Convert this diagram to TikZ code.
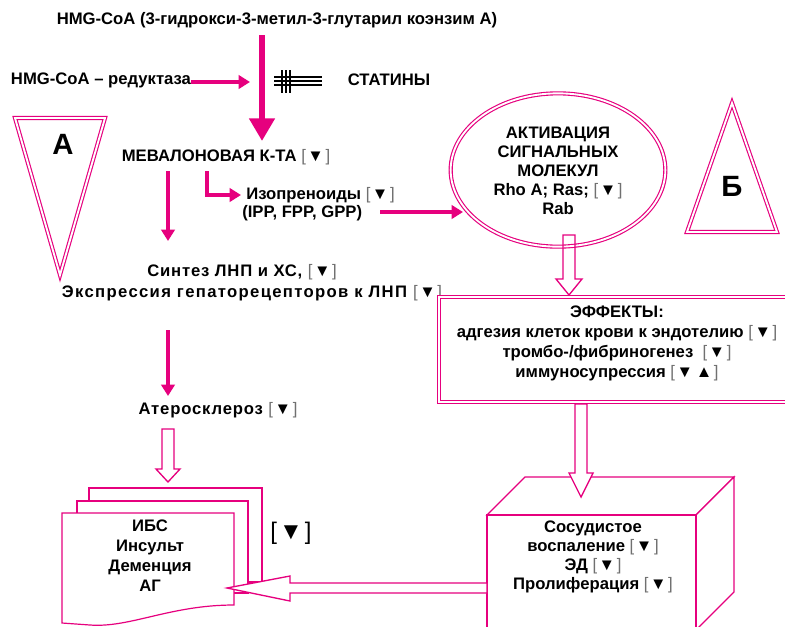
\documentclass[tikz,border=0pt]{standalone}
\usepackage{fontspec}
\setmainfont{Liberation Sans}
\usetikzlibrary{arrows.meta,shapes.geometric}
\definecolor{pk}{HTML}{E6007E}
\definecolor{brk}{HTML}{707070}
\newcommand{\dn}{{\mdseries\color{brk}[}\kern1.2pt▼\kern1.2pt{\mdseries\color{brk}]}}
\newcommand{\dnup}{{\mdseries\color{brk}[}\kern1.2pt▼\kern2pt▲\kern1.2pt{\mdseries\color{brk}]}}
\newcommand{\hdown}[6]{%
  \draw[hollow] ({#1-#5},#2) -- ({#1+#5},#2) -- ({#1+#5},#3) -- ({#1+#6},#3) -- (#1,#4) -- ({#1-#6},#3) -- ({#1-#5},#3) -- cycle;}
\tikzset{
  txt/.style={font=\bfseries\fontsize{12.5}{14}\selectfont, align=center, inner sep=0pt},
  bigl/.style={font=\bfseries\fontsize{22}{24}\selectfont, inner sep=0pt},
  thinarr/.style={draw=pk, line width=2.6pt, -{Triangle[width=10pt,length=8.5pt]}},
  bigarr/.style={draw=pk, line width=4.5pt, -{Triangle[width=18.5pt,length=17pt]}},
  dbl/.style={draw=pk, double=white, double distance=1.4pt, line width=0.85pt, line join=miter},
  hollow/.style={draw=pk, fill=white, line width=1pt, line join=miter},
  thinpk/.style={draw=pk, fill=white, line width=0.9pt, line join=miter},
  statl/.style={draw=black, line width=1.2pt}
}
\begin{document}
\begin{tikzpicture}[x=0.75pt,y=-0.75pt]
\clip (0,0) rectangle (785,626);
\fill[white] (0,0) rectangle (785,626);

% texts top
\node[txt] (hmg) at (277,20) {HMG-CoA (3-гидрокси-3-метил-3-глутарил коэнзим А)};
\node[txt] (red) at (101,80) {HMG-CoA – редуктаза};
\node[txt] (stat) at (389,80) {СТАТИНЫ};
\node[txt] (mev) at (226,157) {МЕВАЛОНОВАЯ К-ТА \dn};
\node[txt, align=left, anchor=west, font=\bfseries\fontsize{12.5}{13.5}\selectfont] (izo) at (242,204) {\hspace*{3pt}Изопреноиды \dn\\(IPP, FPP, GPP)};
\node[txt] (syn) at (242,272) {\addfontfeature{LetterSpace=5}Синтез ЛНП и ХС, \dn};
\node[txt] (exp) at (252,293) {\addfontfeature{LetterSpace=8}Экспрессия гепаторецепторов к ЛНП \dn};
\node[txt] (ath) at (218,410) {\addfontfeature{LetterSpace=5}Атеросклероз \dn};

% main big arrow
\coordinate (bigtop) at (262,35);
\coordinate (bigend) at (262,141);
\draw[bigarr] (bigtop) -- (bigend);
\coordinate (redend) at (250,82);
\draw[thinarr] (red.east |- redend) -- (redend);

% statins symbol
\foreach \xx in {282,286,290} \draw[statl] (\xx,70) -- (\xx,93);
\foreach \yy in {77,81,85} \draw[statl] (274,\yy) -- (322,\yy);

% thin arrows
\coordinate (m1) at (168,171);
\coordinate (m1e) at (168,241);
\draw[thinarr] (m1) -- (m1e);
\coordinate (m2) at (207,171);
\coordinate (m2e) at (241,195);
\draw[thinarr] (m2) |- (m2e);
\coordinate (e1) at (168,330);
\coordinate (e1e) at (168,396);
\draw[thinarr] (e1) -- (e1e);
\coordinate (i1) at (380,212);
\coordinate (i1e) at (463,212);
\draw[thinarr] (i1) -- (i1e);

% triangles
\draw[dbl] (15,118) -- (105,118) -- (60,275) -- cycle;
\node[bigl] (la) at (63,144) {А};
\draw[dbl] (687,232) -- (777,232) -- (732,103) -- cycle;
\node[bigl] (lb) at (732,186) {Б};

% ellipse
\node[dbl, ellipse, minimum width=161pt, minimum height=115pt, inner sep=0pt] (ell) at (558,170) {};
\node[txt, font=\bfseries\fontsize{12.5}{14.3}\selectfont] (elltxt) at (558,171) {АКТИВАЦИЯ\\СИГНАЛЬНЫХ\\МОЛЕКУЛ\\Rho A; Ras; \dn\\Rab};

% effects box
\draw[dbl] (439,297) rectangle (800,402);
\node[txt, font=\bfseries\fontsize{12.5}{15}\selectfont] (eff) at (617,343) {ЭФФЕКТЫ:\\адгезия клеток крови к эндотелию \dn\\тромбо-/фибриногенез\ \ \dn\\иммуносупрессия \dnup};

% hollow arrow ellipse -> effects
\draw[hollow, fill=none] (563,235) -- (575,235) -- (575,279) -- (582,279) -- (569,295) -- (556,279) -- (563,279) -- cycle;

% cube
\draw[thinpk] (487,515) -- (525,477) -- (734,477) -- (696,515) -- cycle;
\draw[thinpk] (696,515) -- (734,477) -- (734,592) -- (696,630) -- cycle;
\draw[thinpk] (487,515) rectangle (696,630);
\node[txt, font=\bfseries\fontsize{12.5}{14.3}\selectfont] (cube) at (593,557) {Сосудистое\\воспаление \dn\\ЭД \dn\\Пролиферация \dn};
\hdown{581}{404}{473}{497}{6}{12}

% pages
\draw[thinpk] (89,488) rectangle (262,582);
\draw[thinpk] (77,501) rectangle (248,593);
\draw[thinpk] (62,623) -- (62,513) -- (234,513) -- (234,605) .. controls (170,605) and (130,628) .. (90,625) -- cycle;
\node[txt, font=\bfseries\fontsize{12.5}{15}\selectfont] (pages) at (150,556) {ИБС\\Инсульт\\Деменция\\АГ};
\node[inner sep=0pt, font=\fontsize{18}{20}\selectfont] (bigdn) at (291,533) {[\kern1.5pt▼\kern1.5pt]};
\hdown{168}{429}{469}{482}{6}{12}

% left hollow arrow
\draw[hollow] (487,583) -- (290,583) -- (290,576) -- (227,588) -- (290,601) -- (290,593) -- (487,593) -- cycle;
\end{tikzpicture}
\end{document}
